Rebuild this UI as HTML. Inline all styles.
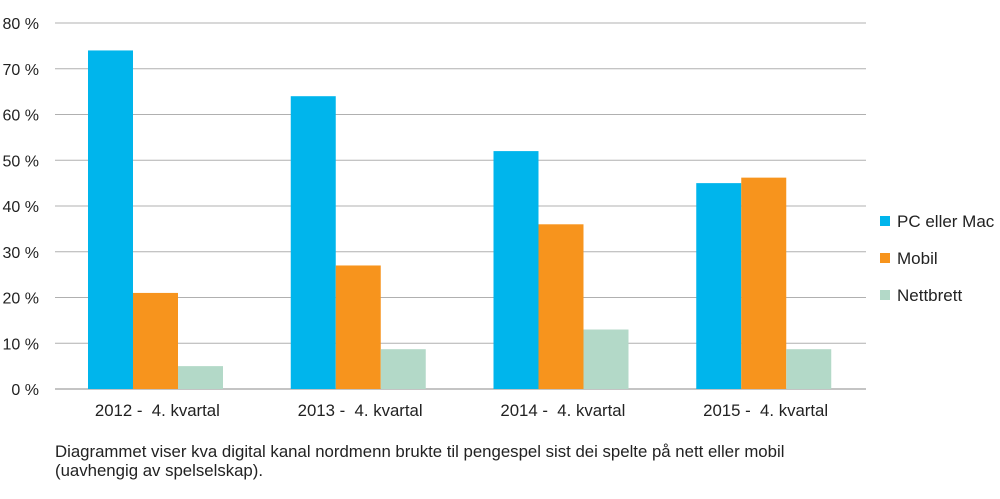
<!DOCTYPE html>
<html><head><meta charset="utf-8"><style>
body{margin:0;background:#fff;font-family:"Liberation Sans",sans-serif;}
svg text{font-family:"Liberation Sans",sans-serif;fill:#222;}
</style></head><body>
<svg width="1000" height="494">
<g id="grid"></g><g id="bars"></g><g id="xl"></g><g id="leg"></g>
<text x="55" y="457" font-size="16.8">Diagrammet viser kva digital kanal nordmenn brukte til pengespel sist dei spelte på nett eller mobil</text>
<text x="55" y="476" font-size="16.8">(uavhengig av spelselskap).</text>
</svg>
<script>
const categories=["2012 -\u00a0 4. kvartal","2013 -\u00a0 4. kvartal","2014 -\u00a0 4. kvartal","2015 -\u00a0 4. kvartal"];
const seriesNames=["PC eller Mac","Mobil","Nettbrett"];
const pcValues=[74,64,52,45];
const mobilValues=[21,27,36,46.2];
const nettbrettValues=[5,8.7,13,8.7];
const yTicks=[0,10,20,30,40,50,60,70,80];
const colors=["#00b5ec","#f7941d","#b3d9c8"];
const NS="http://www.w3.org/2000/svg";
const L=55,R=866,T=23,B=389;
const y=v=>B-(v/80)*(B-T);
const gw=(R-L)/categories.length;
const x=(i,s)=>L+i*gw+33+s*45;
function mk(p,t,a){const e=document.createElementNS(NS,t);for(const k in a)e.setAttribute(k,a[k]);document.getElementById(p).appendChild(e);return e;}
yTicks.forEach(t=>{
 const l=mk('grid','line',{x1:L,x2:R,y1:y(t),y2:y(t),stroke:t===0?'#888':'#b0b0b0','stroke-width':1});
 
 
 const tx=mk('grid','text',{x:39,y:y(t)+6,'font-size':16,'text-anchor':'end'});
 tx.textContent=t+' %';
 
 
});
const all=[pcValues,mobilValues,nettbrettValues];
all.forEach((vals,s)=>vals.forEach((v,i)=>{
 const r=mk('bars','rect',{x:x(i,s),y:y(v),width:45,height:B-y(v),fill:colors[s]});
 
 
}));
categories.forEach((c,i)=>{
 const t=mk('xl','text',{x:L+i*gw+gw/2+1,y:416,'font-size':16.8,'text-anchor':'middle'});
 t.textContent=c;
 
 
});
seriesNames.forEach((n,s)=>{
 const cy=221+s*37;
 const r=mk('leg','rect',{x:880,y:cy-5,width:10,height:10,fill:colors[s]});
 
 
 const t=mk('leg','text',{x:897,y:cy+6,'font-size':17});
 t.textContent=n;
 
 
});
</script>
</body></html>
